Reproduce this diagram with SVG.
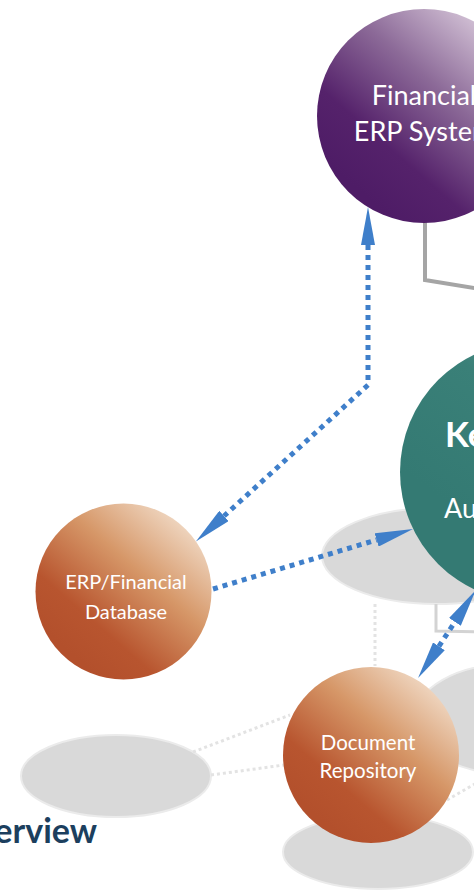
<svg xmlns="http://www.w3.org/2000/svg" width="474" height="890" viewBox="0 0 474 890">
  <defs>
    <linearGradient id="gPurple" x1="0.92" y1="0.02" x2="0.2" y2="0.85">
      <stop offset="0" stop-color="#ebe0eb"/>
      <stop offset="0.45" stop-color="#8c6a98"/>
      <stop offset="0.78" stop-color="#55226b"/>
      <stop offset="1" stop-color="#4e1c66"/>
    </linearGradient>
    <linearGradient id="gOrange" x1="0.92" y1="0.02" x2="0.2" y2="0.85">
      <stop offset="0" stop-color="#f7eadc"/>
      <stop offset="0.45" stop-color="#d69768"/>
      <stop offset="0.8" stop-color="#b8552f"/>
      <stop offset="1" stop-color="#b3502c"/>
    </linearGradient>
    <linearGradient id="gTeal" x1="0.8" y1="0" x2="0.3" y2="0.7">
      <stop offset="0" stop-color="#6aa39b"/>
      <stop offset="0.45" stop-color="#3a8078"/>
      <stop offset="1" stop-color="#347a73"/>
    </linearGradient>
    <marker id="arrow" markerUnits="userSpaceOnUse" markerWidth="38" markerHeight="14" viewBox="0 0 38 14" refX="0" refY="7" orient="auto-start-reverse">
      <path d="M0,0 L38,7 L0,14 Z" fill="#3f7fca" stroke="none"/>
    </marker>
  </defs>
  <style>
    .shadow { fill: #d9d9d9; stroke: #ebebeb; stroke-width: 2; }
    .gdot { fill: none; stroke: #e3e3e3; stroke-width: 3; stroke-dasharray: 3 3; }
    .gsolid { fill: none; stroke: #a5a5a5; stroke-width: 4; }
    .glight { fill: none; stroke: #d3d3d3; stroke-width: 3; }
    .blue { fill: none; stroke: #3f7fca; stroke-width: 5; stroke-dasharray: 5 5; }
    .lbl { font-family: Lato, "Open Sans", sans-serif; fill: #ffffff; text-anchor: middle; }
  </style>

  <g id="shadow-1"><ellipse class="shadow" cx="436" cy="556" rx="114" ry="48"/></g>
  <g id="shadow-2"><ellipse class="shadow" cx="116" cy="776" rx="95" ry="41"/></g>
  <g id="shadow-3"><ellipse class="shadow" cx="378" cy="852" rx="95" ry="37"/></g>
  <g id="shadow-4"><ellipse class="shadow" cx="510" cy="719" rx="96" ry="55"/></g>

  <g id="connectors">
    <path class="gdot" d="M375,604 L375,666"/>
    <path class="gdot" d="M193,752 L290,715"/>
    <path class="gdot" d="M211,775 L284,765"/>
    <path class="gdot" d="M447,800 L480,781"/>
    <path class="gsolid" d="M425,220 L425,280 L480,289"/>
    <path class="glight" d="M436,604 L436,631 L480,632"/>
    <path class="blue" d="M368,245 L368,385 L224,516" marker-start="url(#arrow)" marker-end="url(#arrow)"/>
    <path class="blue" d="M213,589 L376.6,539.9" marker-end="url(#arrow)"/>
    <path class="blue" d="M438.9,646.3 L454.9,621.9" marker-start="url(#arrow)" marker-end="url(#arrow)"/>
  </g>

  <g id="node-financial-erp">
    <circle cx="424" cy="116" r="107" fill="url(#gPurple)"/>
    <text class="lbl" x="424" y="105" font-size="27">Financial</text>
    <text class="lbl" x="424" y="141" font-size="27">ERP System</text>
  </g>

  <g id="node-key">
    <circle cx="530" cy="472" r="130" fill="url(#gTeal)"/>
    <text x="445" y="447" font-family="Lato, 'Open Sans', sans-serif" font-size="35" font-weight="bold" fill="#ffffff">Ke</text>
    <text x="444" y="518" font-family="Lato, 'Open Sans', sans-serif" font-size="27" fill="#ffffff">Au</text>
  </g>

  <g id="node-erp-db">
    <circle cx="123.5" cy="591.5" r="88" fill="url(#gOrange)"/>
    <text class="lbl" x="126" y="589" font-size="20">ERP/Financial</text>
    <text class="lbl" x="126" y="619" font-size="20">Database</text>
  </g>

  <g id="node-doc-repo">
    <circle cx="371" cy="755" r="88" fill="url(#gOrange)"/>
    <text class="lbl" x="368" y="750" font-size="20.5">Document</text>
    <text class="lbl" x="368" y="778" font-size="20.5">Repository</text>
  </g>

  <text x="97" y="843" font-family="Lato, 'Open Sans', sans-serif" font-size="34" font-weight="bold" fill="#1c3f5e" text-anchor="end">erview</text>
</svg>
